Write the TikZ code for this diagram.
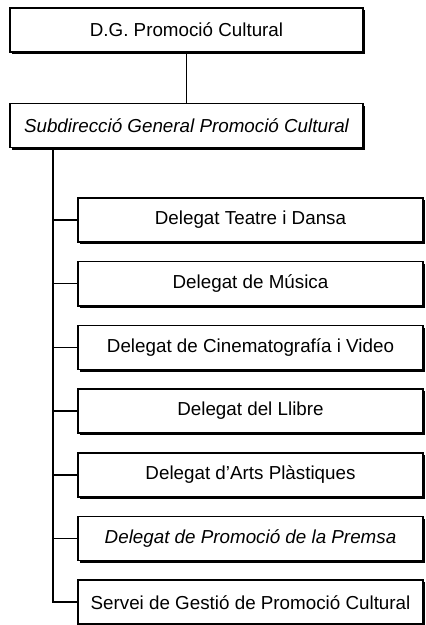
\documentclass[tikz,border=0pt]{standalone}
\usepackage{fontspec}
\setmainfont{Liberation Sans}
\usetikzlibrary{shadows,calc}

\tikzset{
  orgbox/.style={draw=black,fill=white,line width=0.8pt,inner sep=0pt,
    minimum height=22pt,font=\fontsize{9.4}{11}\selectfont,
    drop shadow={shadow xshift=1.1pt,shadow yshift=-1.1pt,fill=black,opacity=1}},
  headbox/.style={orgbox,minimum width=176.5pt},
  delbox/.style={orgbox,minimum width=172.5pt},
  link/.style={draw=black,line width=0.8pt}
}

\begin{document}
\begin{tikzpicture}[x=0.5pt,y=-0.5pt]
        \useasboundingbox (0,0) rectangle (426,625);
        \node[headbox] (dg) at (186.5,30) {D.G. Promoció Cultural};
        \node[headbox] (subdir) at (186.5,125.5) {\itshape Subdirecció General Promoció Cultural};
        \foreach \i/\txt in {1/Delegat Teatre i Dansa,2/Delegat de Música,
            3/Delegat de Cinematografía i Video,4/Delegat del Llibre,
            5/Delegat d'Arts Plàstiques,6/\itshape Delegat de Promoció de la Premsa,
            7/Servei de Gestió de Promoció Cultural}
          \node[delbox] (del\i) at (250.5,{220+63.7*(\i-1)}) {\txt};
        \path (subdir.south west) ++(44,0) coordinate (trunk);
        \draw[link] (dg) -- (subdir);
        \foreach \i in {1,...,7} \draw[link] (trunk) |- (del\i.west);
      \end{tikzpicture}
\end{document}
